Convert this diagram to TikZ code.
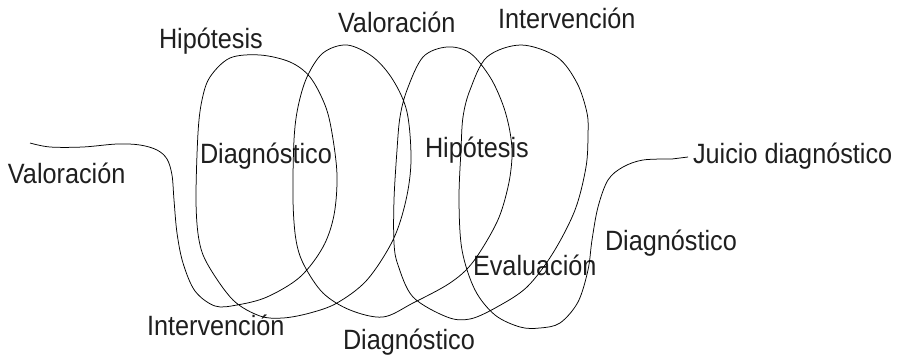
\documentclass[tikz,border=0pt]{standalone}
\usepackage{graphicx}
\usepackage{fontspec}
\setmainfont{Liberation Sans}
\usetikzlibrary{calc}
\newcommand{\narrowtxt}[1]{\scalebox{0.905}[1]{#1}}
\begin{document}
\begin{tikzpicture}[x=1pt,y=-1pt,
  lbl/.style={anchor=base west,inner sep=0pt,outer sep=0pt,font=\fontsize{27.9}{33}\selectfont,text=black!88},
  coil/.style={draw=black,line width=0.75pt}]
\useasboundingbox (0,0) rectangle (903,356);
\node[lbl] (valL)  at (8,183)   {\narrowtxt{Valoración}};
\node[lbl] (hipT)  at (159,48)  {\narrowtxt{Hipótesis}};
\node[lbl] (valT)  at (338,32)  {\narrowtxt{Valoración}};
\node[lbl] (intT)  at (498,28)  {\narrowtxt{Intervención}};
\node[lbl] (diagI) at (200,163) {\narrowtxt{Diagnóstico}};
\node[lbl] (hipI)  at (425,157) {\narrowtxt{Hipótesis}};
\node[lbl] (evalu) at (473,275) {\narrowtxt{Evaluación}};
\node[lbl] (diagR) at (605,250) {\narrowtxt{Diagnóstico}};
\node[lbl] (juicio) at (693,163) {\narrowtxt{Juicio diagnóstico}};
\node[lbl] (intB)  at (147,335) {\narrowtxt{Intervención}};
\node[lbl] (diagB) at (343,349) {\narrowtxt{Diagnóstico}};
\coordinate (start) at (30,143);
\coordinate (jend) at ($(juicio.base west)+(-5,-6)$);
\draw[coil] plot[smooth,tension=0.55] coordinates {
 (start) (50,147) (83,147) (117,144) (140,145) (157,150) (167,159) (172,175) (174,200)
 (177,233) (183,263) (195,291) (215,306) (237,305) (267,297) (300,277) (323,247)
 (334,215) (337,175) (332,133) (325,105) (310,77) (290,62) (260,55) (230,58) (210,77)
 (202,100) (198,133) (196,200) (199,240) (208,265) (233,300) (260,316) (283,318)
 (310,313) (337,303) (367,280) (393,240) (406,200) (411,160) (407,112) (393,80)
 (373,57) (347,45) (323,53) (307,77) (298,107) (294,140) (293,200) (296,240)
 (304,265) (323,293) (350,310) (383,317) (413,303) (450,283) (473,262) (497,222)
 (508,187) (512,157) (510,132) (503,105) (490,77) (470,53) (447,47) (423,57)
 (407,90) (400,117) (397,150) (394,200) (394,243) (398,265) (413,297) (447,317)
 (470,319) (497,307) (527,287) (553,253) (575,210) (586,167) (588,135) (587,113)
 (577,83) (557,57) (521,45) (487,57) (470,90) (463,117) (461,150) (459,200)
 (462,250) (475,290) (495,315) (520,327) (540,328) (560,323) (578,302) (588,270)
 (592,240) (598,207) (608,180) (623,167) (643,160) (672,159)}
 -- (jend);
\end{tikzpicture}
\end{document}
